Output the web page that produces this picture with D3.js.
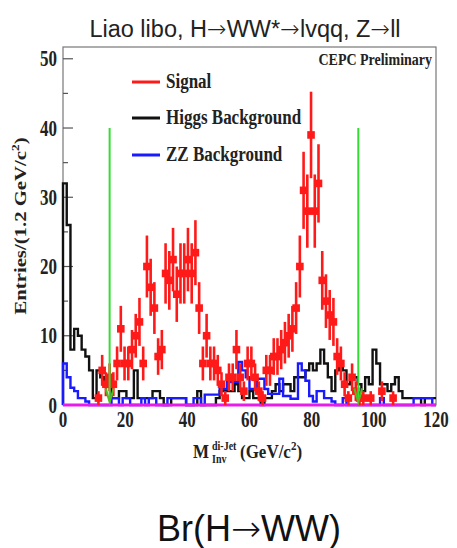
<!DOCTYPE html>
<html><head><meta charset="utf-8">
<script src="https://cdn.jsdelivr.net/npm/d3@7"></script>
<style>body{margin:0;background:#fff}</style></head>
<body><svg id="c" width="457" height="548"></svg>
<script>
// ---------------- data ----------------
const binWidth = 1.2;               // GeV/c^2 per bin, 100 bins on 0-120
const signal = [
  0,0,0,0,0,0,0,0,0,1,
  5,3,4,3,6,11,6,6,8,10,
  12,6,20,17,14,7,8,19,18,21,
  16,19,19,21,19,22,14,6,10,6,
  6,5,3,1,4,4,8,4,2,6,
  6,4,2,1,5,5,7,7,8,9,
  10,11,14,20,31,28,39,28,32,18,
  15,13,12,7,6,3,1,4,2,1,
  1,0,1,0,0,2,0,0,1,0,
  0,0,0,0,0,0,0,0,0,0];
const higgsBkg = [
  32,26,8,11,10,8,7,5,1,5,
  4,3,3,1,1,2,2,1,1,5,
  1,1,1,1,2,2,1,0,0,1,
  1,1,1,0,0,0,2,0,0,0,
  0,1,2,2,2,2,3,2,1,1,
  2,1,1,0,1,1,2,3,2,3,
  3,2,4,4,4,5,6,5,6,8,
  6,4,2,5,6,5,3,4,4,3,
  2,4,3,8,6,3,3,2,3,4,
  2,1,1,1,1,1,0,1,1,1];
const zzBkg = [
  6,4,2.5,2,1,1,0.5,0,0,0,
  0,0,0,1,1,0,1,1,0,0,
  0,1,0,1,1,0,0,0,1,1,
  1,1,1,0,0,1,1,0,1.5,1.5,
  1.5,1.5,2.3,2.3,3.3,3.3,3.3,6.2,5,4,
  2.3,2.3,3.8,3.8,2.3,1.6,1.6,1.6,3.8,1.3,
  1.3,0.9,0.9,6,5,3.5,1.3,0.5,2,2,
  1,1,0.5,0,0,1,0,0,0,0,
  0,0,0,0,0,1,0,0,0,0,
  0,0,0,0,1,1,1,1,1,0];
const otherBkg = new Array(100).fill(0);  // magenta line, all bins empty
const xTicks = [0,20,40,60,80,100,120];
const yTicks = [0,10,20,30,40,50];
const yMinorTicks = [5,15,25,35,45];
const cutValues = [15,95];
const cutHeight = 40;
const legendLabels = ["Signal","Higgs Background","ZZ Background"];
const legendColors = ["#ff1a1a","#111111","#1a1aff"];
const titleText = "Liao libo, H\u2192WW*\u2192lvqq, Z\u2192ll";
const captionText = "Br(H\u2192WW)";
const stampText = "CEPC Preliminary";

// ---------------- drawing ----------------
const svg = d3.select("#c");
const SERIF = "'Liberation Serif','Times New Roman',serif";
const SANS = "'Liberation Sans',Arial,sans-serif";
const x = d3.scaleLinear().domain([0,120]).range([63,436]);
const y = d3.scaleLinear().domain([0,51.7]).range([405,47]);

svg.append("rect").attr("width",457).attr("height",548).attr("fill","#fff");

// sans text with arrows drawn from DejaVu Sans
function arrowText(px, py, str, size, fill){
  const t = svg.append("text").attr("x",px).attr("y",py).attr("text-anchor","middle")
    .attr("font-family",SANS).attr("font-size",size).attr("fill",fill);
  str.split("\u2192").forEach((part,i)=>{
    if(i>0) t.append("tspan").attr("font-family","'DejaVu Sans',sans-serif")
      .attr("font-weight","200").text("\u2192");
    t.append("tspan").text(part);
  });
  return t;
}
arrowText(245, 37, titleText, 23.5, "#222");
arrowText(249, 541, captionText, 36, "#111");

// frame
svg.append("rect").attr("x",x(0)).attr("y",y(51.7)).attr("width",x(120)-x(0)).attr("height",y(0)-y(51.7))
  .attr("fill","none").attr("stroke","#777").attr("stroke-width",1.2);

// y ticks (inward)
svg.append("g").selectAll("line").data(yTicks).join("line")
  .attr("x1",x(0)).attr("x2",x(0)+10).attr("y1",d=>y(d)).attr("y2",d=>y(d))
  .attr("stroke","#555").attr("stroke-width",1.2);
svg.append("g").selectAll("line").data(yMinorTicks).join("line")
  .attr("x1",x(0)).attr("x2",x(0)+5).attr("y1",d=>y(d)).attr("y2",d=>y(d))
  .attr("stroke","#555").attr("stroke-width",1.2);

function stext(parent, px, py, str, size, anchor, sy){
  const g = parent.append("g").attr("transform",`translate(${px},${py}) scale(1,${sy})`);
  return g.append("text").attr("text-anchor",anchor).attr("font-family",SERIF)
    .attr("font-weight","bold").attr("font-size",size).attr("fill","#222").text(str);
}
// y tick labels
yTicks.forEach(t=>stext(svg, 57, y(t)+7.5, String(t), 17, "end", 1.3));
// x tick labels
xTicks.forEach(t=>stext(svg, x(t), 427, String(t), 17, "middle", 1.3));

// y axis title
{
  const g = svg.append("g").attr("transform","translate(26,226) rotate(-90) scale(1.22,1)");
  const t = g.append("text").attr("text-anchor","middle").attr("font-family",SERIF)
    .attr("font-weight","bold").attr("font-size",17).attr("fill","#222");
  t.append("tspan").text("Entries/(1.2 GeV/c");
  t.append("tspan").attr("font-size",11).attr("dy",-7).text("2");
  t.append("tspan").attr("dy",7).text(")");
}
// x axis title
{
  const g = svg.append("g").attr("transform","translate(0,458) scale(1,1.15)");
  const mk = (px,py,s,fs)=>g.append("text").attr("x",px).attr("y",py).attr("font-family",SERIF)
    .attr("font-weight","bold").attr("font-size",fs).attr("fill","#222").text(s);
  mk(193,0,"M",17);
  mk(212,-7,"di-Jet",10);
  mk(212,4.5,"Inv",10);
  const t = mk(240,0,"(GeV/c",17);
  t.append("tspan").attr("font-size",11).attr("dy",-7).text("2");
  t.append("tspan").attr("dy",7).text(")");
}

// histograms
const stepLine = d3.line().x(d=>x(d[0])).y(d=>y(d[1])).curve(d3.curveStepAfter);
function stepPts(arr){
  const pts = [[0,0]];
  arr.forEach((v,i)=>pts.push([i*binWidth, v]));
  pts.push([arr.length*binWidth, arr[arr.length-1]]);
  return pts;
}
svg.append("path").attr("d",stepLine(stepPts(higgsBkg))).attr("fill","none")
  .attr("stroke",legendColors[1]).attr("stroke-width",2.4);
svg.append("path").attr("d",stepLine(stepPts(zzBkg))).attr("fill","none")
  .attr("stroke",legendColors[2]).attr("stroke-width",2.4);
svg.append("path").attr("d",stepLine(stepPts(otherBkg))).attr("fill","none")
  .attr("stroke","#e81ce8").attr("stroke-width",3);

// signal points with Poisson error bars
const sig = signal.map((v,i)=>({c:(i+0.5)*binWidth, v})).filter(d=>d.v>0);
const gs = svg.append("g");
gs.selectAll("line").data(sig).join("line")
  .attr("x1",d=>x(d.c)).attr("x2",d=>x(d.c))
  .attr("y1",d=>y(Math.max(0,d.v-Math.sqrt(d.v)))).attr("y2",d=>y(d.v+Math.sqrt(d.v)))
  .attr("stroke",legendColors[0]).attr("stroke-width",2.6);
gs.selectAll("rect").data(sig).join("rect")
  .attr("x",d=>x(d.c)-3.8).attr("y",d=>y(d.v)-3.8).attr("width",7.6).attr("height",7.6)
  .attr("fill",legendColors[0]);

// cut lines with arrows
cutValues.forEach(c=>{
  svg.append("line").attr("x1",x(c)).attr("x2",x(c)).attr("y1",y(cutHeight)).attr("y2",y(0.6))
    .attr("stroke","#33dd33").attr("stroke-width",2);
  svg.append("path").attr("d",`M${x(c)-4},${y(2.4)} L${x(c)},${y(0.4)} L${x(c)+4},${y(2.4)}`)
    .attr("fill","none").attr("stroke","#55bb22").attr("stroke-width",2);
});

// legend
legendLabels.forEach((lab,i)=>{
  const ly = [82,118,155][i];
  svg.append("line").attr("x1",132).attr("x2",160).attr("y1",ly).attr("y2",ly)
    .attr("stroke",legendColors[i]).attr("stroke-width",3);
  stext(svg, 166, ly+6, lab, 17, "start", 1.25);
});
stext(svg, 432, 65, stampText, 14, "end", 1.25);
</script>
</body></html>
